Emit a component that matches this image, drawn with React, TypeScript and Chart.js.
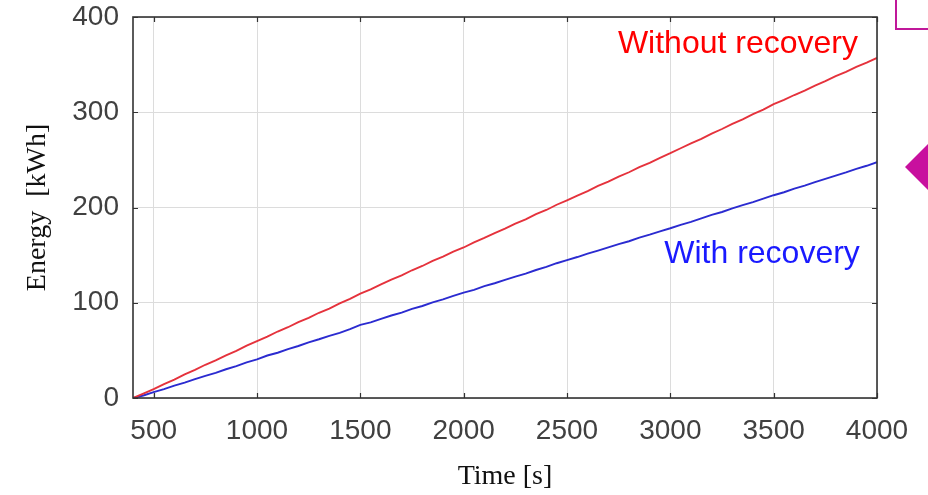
import React, { useEffect, useRef } from 'react';
import { Chart, registerables } from 'chart.js';

Chart.register(...registerables);

const times = [
  400, 450, 500, 550, 600, 650, 700, 750, 800, 850, 900, 950, 1000, 1050, 1100, 1150, 1200, 1250,
  1300, 1350, 1400, 1450, 1500, 1550, 1600, 1650, 1700, 1750, 1800, 1850, 1900, 1950, 2000, 2050,
  2100, 2150, 2200, 2250, 2300, 2350, 2400, 2450, 2500, 2550, 2600, 2650, 2700, 2750, 2800, 2850,
  2900, 2950, 3000, 3050, 3100, 3150, 3200, 3250, 3300, 3350, 3400, 3450, 3500, 3550, 3600, 3650,
  3700, 3750, 3800, 3850, 3900, 3950, 4000,
];

const withoutRecovery = [
  0, 4.6, 9.4, 14.5, 19.3, 24.8, 29.5, 34.9, 39.4, 44.8, 49.4, 55.0, 59.8, 64.4, 69.8, 74.3, 79.6, 84.2,
  89.5, 93.9, 99.4, 104.1, 109.6, 114.0, 119.3, 124.2, 128.7, 134.1, 138.6, 144.0, 148.5, 153.6, 158.0, 163.4,
  168.1, 173.2, 177.8, 183.0, 187.6, 193.0, 197.4, 202.9, 207.6, 212.5, 217.3, 222.6, 227.1, 232.4, 237.0, 242.3,
  246.9, 252.1, 257.0, 262.2, 267.4, 272.1, 277.6, 282.4, 287.8, 292.6, 298.0, 302.7, 308.6, 312.9, 318.1, 322.8,
  328.0, 332.6, 337.9, 342.4, 347.6, 352.0, 357.0,
];

const withRecovery = [
  0, 2.6, 6.1, 9.3, 13.0, 16.2, 19.8, 23.3, 26.4, 30.2, 33.5, 37.4, 40.6, 44.6, 47.5, 51.4, 54.6, 58.4,
  61.7, 65.3, 68.4, 72.3, 76.8, 79.4, 83.0, 86.6, 89.6, 93.5, 96.6, 100.4, 103.5, 107.2, 110.6, 113.6,
  117.4, 120.5, 124.0, 127.5, 130.6, 134.4, 137.7, 141.5, 144.8, 148.0, 151.5, 154.8, 158.2, 161.6, 164.6, 168.4,
  171.5, 175.0, 178.2, 181.8, 185.0, 188.6, 192.2, 195.3, 199.0, 202.4, 205.7, 209.4, 212.9, 216.0, 219.8, 223.0,
  226.6, 230.0, 233.5, 236.8, 240.6, 243.8, 247.6,
];

const xTicks = [500, 1000, 1500, 2000, 2500, 3000, 3500, 4000];
const yTicks = [0, 100, 200, 300, 400];
const xTitle = 'Time [s]';
const yTitle = 'Energy  [kWh]';

const annotationTexts = ['Without recovery', 'With recovery'];
const annotationX = [3908, 3917];
const annotationY = [362, 142];
const annotationColors = ['#ff0000', '#1a1aff'];

export default function App() {
  const ref = useRef<HTMLCanvasElement>(null);

  useEffect(() => {
    if (!ref.current) return;

    const deco = {
      id: 'deco',
      afterDraw(chart: any) {
        const { ctx, chartArea } = chart;
        const { left, right, top, bottom } = chartArea;
        const xs = chart.scales.x;
        const ys = chart.scales.y;
        ctx.save();
        // inner tick marks
        ctx.strokeStyle = '#333333';
        ctx.lineWidth = 1.2;
        const tl = 5;
        ctx.beginPath();
        xTicks.forEach((v) => {
          const px = Math.round(xs.getPixelForValue(v)) + 0.5;
          ctx.moveTo(px, bottom);
          ctx.lineTo(px, bottom - tl);
          ctx.moveTo(px, top);
          ctx.lineTo(px, top + tl);
        });
        yTicks.forEach((v) => {
          const py = Math.round(ys.getPixelForValue(v)) + 0.5;
          ctx.moveTo(left, py);
          ctx.lineTo(left + tl, py);
          ctx.moveTo(right, py);
          ctx.lineTo(right - tl, py);
        });
        ctx.stroke();
        // box
        ctx.lineWidth = 1.6;
        ctx.strokeStyle = '#333333';
        ctx.strokeRect(left, top, right - left, bottom - top);
        // annotations
        ctx.font = '32px "Liberation Sans", Arial, sans-serif';
        ctx.textAlign = 'right';
        ctx.textBaseline = 'alphabetic';
        annotationTexts.forEach((t, i) => {
          ctx.fillStyle = annotationColors[i];
          ctx.fillText(t, xs.getPixelForValue(annotationX[i]), ys.getPixelForValue(annotationY[i]));
        });
        // slide decorations
        ctx.strokeStyle = '#c0189a';
        ctx.lineWidth = 2;
        ctx.strokeRect(896, -10, 100, 39);
        ctx.fillStyle = '#c8109e';
        ctx.beginPath();
        ctx.moveTo(905, 167);
        ctx.lineTo(929, 143);
        ctx.lineTo(929, 191);
        ctx.closePath();
        ctx.fill();
        ctx.restore();
      },
    };

    const chart = new Chart(ref.current, {
      type: 'line',
      data: {
        datasets: [
          {
            label: annotationTexts[0],
            data: times.map((t, i) => ({ x: t, y: withoutRecovery[i] })),
            borderColor: '#e5323c',
            borderWidth: 1.9,
            pointRadius: 0,
            tension: 0,
          },
          {
            label: annotationTexts[1],
            data: times.map((t, i) => ({ x: t, y: withRecovery[i] })),
            borderColor: '#2b2bd0',
            borderWidth: 1.9,
            pointRadius: 0,
            tension: 0,
          },
        ],
      },
      options: {
        responsive: false,
        devicePixelRatio: 1,
        animation: false,
        layout: { padding: { top: 17, right: 51, left: 0, bottom: 0 } },
        plugins: { legend: { display: false }, tooltip: { enabled: false } },
        scales: {
          x: {
            type: 'linear',
            min: 400,
            max: 4000,
            afterBuildTicks: (s: any) => {
              s.ticks = xTicks.map((v) => ({ value: v }));
            },
            afterFit: (s: any) => {
              s.height = 97;
              s.paddingLeft = 0;
              s.paddingRight = 0;
            },
            grid: { color: '#dcdcdc', lineWidth: 1, drawTicks: false },
            border: { display: false },
            ticks: {
              color: '#404040',
              font: { family: '"Liberation Sans", Arial, sans-serif', size: 28 },
              padding: 16,
              maxRotation: 0,
              autoSkip: false,
              callback: (v: any) => String(v),
            },
            title: {
              display: true,
              text: xTitle,
              color: '#111111',
              font: { family: '"Liberation Serif", "Times New Roman", serif', size: 28 },
              padding: { top: 0, bottom: 2 },
            },
          },
          y: {
            type: 'linear',
            min: 0,
            max: 400,
            afterBuildTicks: (s: any) => {
              s.ticks = yTicks.map((v) => ({ value: v }));
            },
            afterFit: (s: any) => {
              s.width = 133;
              s.paddingTop = 0;
              s.paddingBottom = 0;
            },
            grid: { color: '#dcdcdc', lineWidth: 1, drawTicks: false },
            border: { display: false },
            ticks: {
              color: '#404040',
              font: { family: '"Liberation Sans", Arial, sans-serif', size: 28 },
              padding: 14,
              callback: (v: any) => String(v),
            },
            title: {
              display: true,
              text: yTitle,
              color: '#111111',
              font: { family: '"Liberation Serif", "Times New Roman", serif', size: 28 },
              padding: { top: 21, bottom: 0 },
            },
          },
        },
      },
      plugins: [deco],
    });

    return () => chart.destroy();
  }, []);

  return (
    <div style={{ position: 'fixed', left: 0, top: 0, width: 928, height: 495, background: '#ffffff' }}>
      <canvas ref={ref} width={928} height={495} style={{ display: 'block', width: 928, height: 495 }} />
    </div>
  );
}
